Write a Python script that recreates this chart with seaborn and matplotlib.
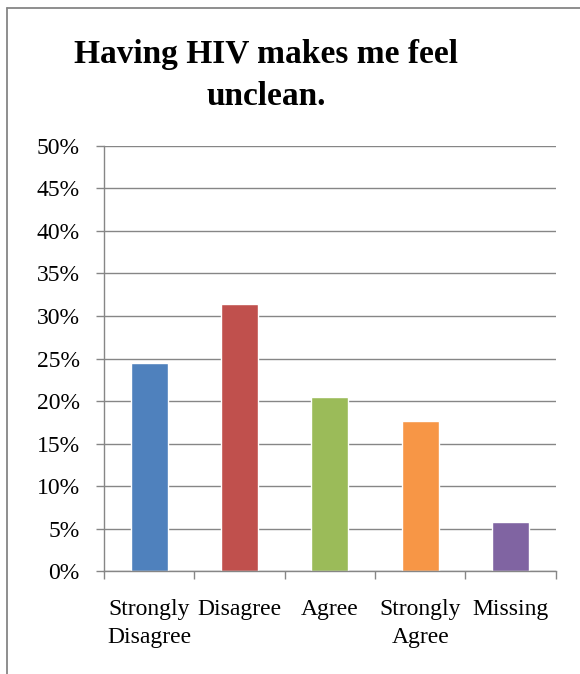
import matplotlib
matplotlib.use("Agg")
import matplotlib.pyplot as plt
from matplotlib.lines import Line2D
from matplotlib.ticker import FixedLocator, PercentFormatter
import pandas as pd
import seaborn as sns

# Survey responses to the statement in the title
categories = ["Strongly\nDisagree", "Disagree", "Agree", "Strongly\nAgree", "Missing"]
shares = [24.5, 31.4, 20.5, 17.7, 5.8]
colors = ["#4F81BD", "#C0504D", "#9BBB59", "#F79646", "#8064A2"]
y_ticks = [0, 5, 10, 15, 20, 25, 30, 35, 40, 45, 50]
title_lines = ["Having HIV makes me feel", "unclean."]

sns.set_style("white")
plt.rcParams["font.family"] = ["Liberation Serif", "DejaVu Serif"]
plt.rcParams["text.color"] = "black"
plt.rcParams["xtick.labelcolor"] = "black"
plt.rcParams["ytick.labelcolor"] = "black"

grid_col = "#868686"
W, H = 580, 674
fig = plt.figure(figsize=(W / 100, H / 100), dpi=100)
ax = fig.add_axes([104 / W, 1 - 571.3 / H, (555.7 - 104) / W, (571.3 - 145.8) / H])

df = pd.DataFrame({"category": categories, "share": shares})
sns.barplot(data=df, x="category", y="share", hue="category", palette=colors,
            width=0.41, saturation=1, legend=False, ax=ax, zorder=3)

ax.set_xlim(-0.5, len(categories) - 0.5)
ax.set_ylim(0, 50)
ax.set_xlabel("")
ax.set_ylabel("")

# horizontal gridlines
ax.yaxis.set_major_locator(FixedLocator(y_ticks))
ax.yaxis.set_major_formatter(PercentFormatter(decimals=0))
ax.grid(axis="y", color=grid_col, linewidth=1.0, zorder=0)
ax.grid(axis="x", visible=False)
ax.set_axisbelow(True)

# category boundary ticks on x, labels at centers
ax.set_xticks([i - 0.5 for i in range(len(categories) + 1)], minor=False)
ax.set_xticklabels([""] * (len(categories) + 1))
ax.set_xticks(range(len(categories)), minor=True)
ax.set_xticklabels(categories, minor=True, fontsize=17, linespacing=1.45)
ax.tick_params(axis="x", which="major", direction="out", length=6, width=1.0,
               color=grid_col, bottom=True)
ax.tick_params(axis="x", which="minor", length=0, pad=20, bottom=True)
ax.tick_params(axis="y", direction="out", length=5.5, width=1.0, color=grid_col,
               left=True, pad=12, labelsize=17)

for side in ["top", "right"]:
    ax.spines[side].set_visible(False)
for side in ["left", "bottom"]:
    ax.spines[side].set_visible(True)
    ax.spines[side].set_color(grid_col)
    ax.spines[side].set_linewidth(1.0)
    ax.spines[side].set_zorder(4)

# two-line chart title
for line, base in zip(title_lines, [63, 105]):
    fig.text(266.5 / W, 1 - base / H, line, ha="center", va="baseline",
             fontsize=24, fontweight="bold", color="black")

# outer chart frame
fx, fy = 7.3 / W, 1 - 8.3 / H
fig.add_artist(Line2D([fx, fx], [0, fy], transform=fig.transFigure, color=grid_col, linewidth=1.3))
fig.add_artist(Line2D([fx, 1], [fy, fy], transform=fig.transFigure, color=grid_col, linewidth=1.3))

fig.savefig("out.png", dpi=100)
